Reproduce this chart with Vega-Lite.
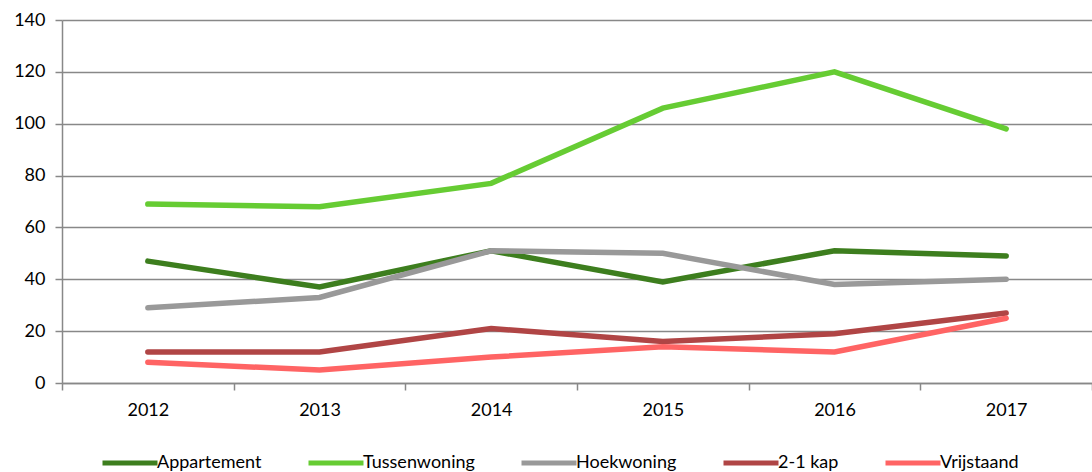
{
  "$schema": "https://vega.github.io/schema/vega-lite/v6.json",
  "width": 1030,
  "height": 363,
  "autosize": "none",
  "padding": {"left": 62, "top": 20, "right": 0, "bottom": 89},
  "background": "white",
  "config": {
    "view": {"stroke": null},
    "font": "Lato"
  },
  "data": {
    "values": [
      {"year": "2012", "type": "Appartement", "value": 47},
      {"year": "2013", "type": "Appartement", "value": 37},
      {"year": "2014", "type": "Appartement", "value": 51},
      {"year": "2015", "type": "Appartement", "value": 39},
      {"year": "2016", "type": "Appartement", "value": 51},
      {"year": "2017", "type": "Appartement", "value": 49},
      {"year": "2012", "type": "Tussenwoning", "value": 69},
      {"year": "2013", "type": "Tussenwoning", "value": 68},
      {"year": "2014", "type": "Tussenwoning", "value": 77},
      {"year": "2015", "type": "Tussenwoning", "value": 106},
      {"year": "2016", "type": "Tussenwoning", "value": 120},
      {"year": "2017", "type": "Tussenwoning", "value": 98},
      {"year": "2012", "type": "Hoekwoning", "value": 29},
      {"year": "2013", "type": "Hoekwoning", "value": 33},
      {"year": "2014", "type": "Hoekwoning", "value": 51},
      {"year": "2015", "type": "Hoekwoning", "value": 50},
      {"year": "2016", "type": "Hoekwoning", "value": 38},
      {"year": "2017", "type": "Hoekwoning", "value": 40},
      {"year": "2012", "type": "2-1 kap", "value": 12},
      {"year": "2013", "type": "2-1 kap", "value": 12},
      {"year": "2014", "type": "2-1 kap", "value": 21},
      {"year": "2015", "type": "2-1 kap", "value": 16},
      {"year": "2016", "type": "2-1 kap", "value": 19},
      {"year": "2017", "type": "2-1 kap", "value": 27},
      {"year": "2012", "type": "Vrijstaand", "value": 8},
      {"year": "2013", "type": "Vrijstaand", "value": 5},
      {"year": "2014", "type": "Vrijstaand", "value": 10},
      {"year": "2015", "type": "Vrijstaand", "value": 14},
      {"year": "2016", "type": "Vrijstaand", "value": 12},
      {"year": "2017", "type": "Vrijstaand", "value": 25}
    ]
  },
  "mark": {"type": "line", "strokeWidth": 5.5, "strokeCap": "round", "strokeJoin": "miter"},
  "encoding": {
    "x": {
      "field": "year",
      "type": "ordinal",
      "bandPosition": 0.5,
      "scale": {"type": "band", "paddingInner": 0, "paddingOuter": 0},
      "axis": {
        "title": null,
        "labelAngle": 0,
        "labelFontSize": 18,
        "labelColor": "#000000",
        "labelPadding": 11,
        "domainColor": "#888888",
        "domainWidth": 1.5,
        "tickColor": "#888888",
        "tickWidth": 1.5,
        "tickSize": 7,
        "tickBand": "extent",
        "grid": false
      }
    },
    "y": {
      "field": "value",
      "type": "quantitative",
      "scale": {"domain": [0, 140], "nice": false},
      "axis": {
        "title": null,
        "values": [0, 20, 40, 60, 80, 100, 120, 140],
        "labelFontSize": 18,
        "labelColor": "#000000",
        "labelPadding": 10,
        "domainColor": "#888888",
        "domainWidth": 1.5,
        "tickColor": "#888888",
        "tickWidth": 1.5,
        "tickSize": 7,
        "grid": true,
        "gridColor": "#888888",
        "gridWidth": 1.5
      }
    },
    "color": {
      "field": "type",
      "type": "nominal",
      "scale": {
        "domain": ["Appartement", "Tussenwoning", "Hoekwoning", "2-1 kap", "Vrijstaand"],
        "range": ["#3d7e1e", "#66cc33", "#999999", "#b04545", "#ff6464"]
      },
      "legend": {
        "title": null,
        "orient": "none",
        "direction": "horizontal",
        "columns": 5,
        "legendX": 38,
        "legendY": 413,
        "symbolType": "stroke",
        "symbolSize": 3025,
        "symbolStrokeWidth": 5,
        "labelFontSize": 18,
        "labelColor": "#000000",
        "labelOffset": -3,
        "columnPadding": 36
      }
    }
  }
}
